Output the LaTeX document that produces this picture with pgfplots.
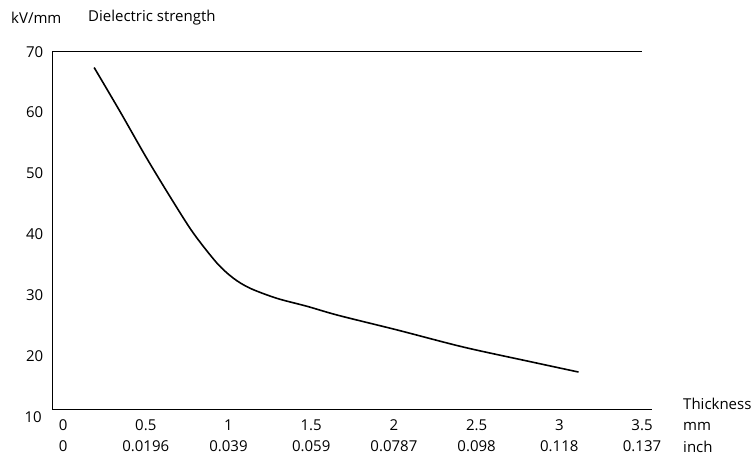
\documentclass[border=0pt]{standalone}
\usepackage{fontspec}
\setmainfont{Open Sans}
\usepackage{pgfplots}
\pgfplotsset{compat=1.18}
\begin{document}
\begin{tikzpicture}[font=\fontsize{15}{18}\selectfont]
\useasboundingbox (0pt,0pt) rectangle (754pt,456pt);
\begin{axis}[
  at={(52.3pt,46.7pt)}, anchor=south west,
  scale only axis, width=589.7pt, height=357.6pt,
  xmin=-0.065, xmax=3.5, ymin=11.28, ymax=70,
  axis line style={draw=none},
  major tick length=0pt,
  ytick={20,30,40,50,60,70},
  xtick={0,0.5,1,1.5,2,2.5,3,3.5},
  xticklabels={{0\\0},{0.5\\0.0196},{1\\0.039},{1.5\\0.059},{2\\0.0787},{2.5\\0.098},{3\\0.118},{3.5\\0.137}},
  xticklabel style={align=center, font=\fontsize{15}{21}\selectfont, yshift=-7pt},
  yticklabel style={font=\fontsize{15}{18}\selectfont, xshift=-5.5pt},
  /pgf/number format/assume math mode=true,
  clip=false,
]
\draw[line width=1.6pt] (rel axis cs:0,1) -- (rel axis cs:1,1);
\draw[line width=1.6pt] (rel axis cs:0,0) -- ([xshift=9.7pt]rel axis cs:1,0);
\draw[line width=1.6pt] (rel axis cs:0,0) -- (rel axis cs:0,1);
\node[anchor=east, font=\fontsize{15}{18}\selectfont, inner sep=0pt, xshift=-10.3pt] at (axis cs:-0.065,10) {10};
\addplot[black, line width=1.6pt, smooth, tension=0.5] coordinates {
(0.188,67.4) (0.345,60.15) (0.506,52.5) (0.665,45.4) (0.788,40.2)
(0.930,35.3) (1.030,32.8) (1.131,31.15) (1.293,29.5) (1.474,28.2)
(1.665,26.7) (2.021,24.3) (2.420,21.5) (2.825,19.1) (3.116,17.4)
};
\end{axis}
\node[anchor=west, inner sep=0pt] at (11pt,438pt) {kV/mm};
\node[anchor=west, inner sep=0pt] at (88pt,438pt) {Dielectric strength};
\node[anchor=west, inner sep=0pt] at (683pt,52pt) {Thickness};
\node[anchor=west, inner sep=0pt] at (683pt,30pt) {mm};
\node[anchor=west, inner sep=0pt] at (683pt,9pt) {inch};
\end{tikzpicture}
\end{document}
